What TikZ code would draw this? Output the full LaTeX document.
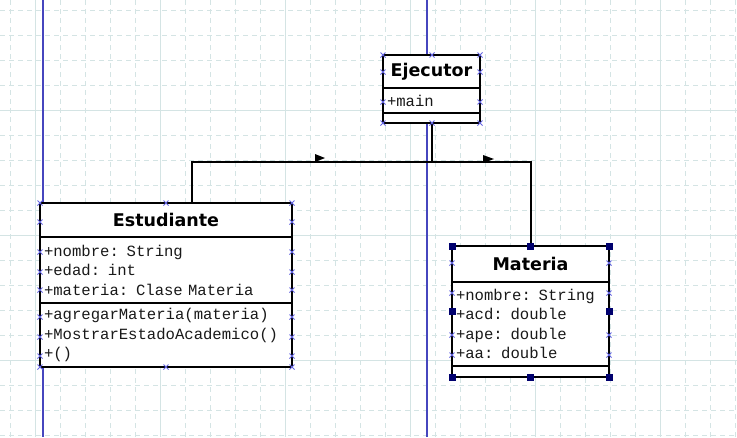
\documentclass[tikz,border=0pt]{standalone}
\usepackage{fontspec}
\usetikzlibrary{positioning}
\newfontfamily\titlefont{DejaVu Sans}
\newfontfamily\codefont[WordSpace={1,0,0}]{Liberation Mono}
\definecolor{gridline}{RGB}{212,228,228}
\definecolor{pageline}{RGB}{70,70,190}
\definecolor{portmark}{RGB}{100,100,225}
\definecolor{handle}{RGB}{0,0,110}
\tikzset{
  namepart/.style={draw, line width=2pt, fill=white, inner sep=0pt, outer sep=0pt,
    font=\titlefont\bfseries\fontsize{17.5}{17.5}\selectfont},
  listpart/.style={draw, line width=2pt, fill=white, inner xsep=4pt, inner ysep=0pt,
    outer sep=0pt, align=left, text=black!90,
    font=\codefont\fontsize{15.6}{19.5}\selectfont},
  link/.style={line width=2pt},
  port/.style={portmark, line width=0.8pt}
}
\begin{document}
\begin{tikzpicture}[x=1pt, y=-1pt]
            \useasboundingbox (0,0) rectangle (737,437);
            \fill[white] (0,0) rectangle (737,437);
            % grid
            \foreach \gx in {10,35,...,735}
                \draw[gridline, dash pattern=on 5pt off 4pt] (\gx,0) -- (\gx,437);
            \foreach \gy in {10,35,...,435}
                \draw[gridline, dash pattern=on 5pt off 4pt] (0,\gy) -- (737,\gy);
            \foreach \gx in {35,160,...,660}
                \draw[gridline] (\gx,0) -- (\gx,437);
            \foreach \gy in {110,235,360}
                \draw[gridline] (0,\gy) -- (737,\gy);
            \draw[pageline, line width=1.3pt] (43,0) -- (43,437);
            \draw[pageline, line width=1.3pt] (427,0) -- (427,437);
            % Ejecutor
            \node[namepart, minimum width=97, minimum height=33] (ejecutor) at (431.5,71.5) {Ejecutor};
            \node[listpart, below=0pt of ejecutor, text width=89, minimum height=25] (ejecutorattr) {+main};
            \node[listpart, below=0pt of ejecutorattr, text width=89, minimum height=10] (ejecutorops) {};
            % Estudiante
            \node[namepart, minimum width=252, minimum height=34] (estudiante) at (166,220) {Estudiante};
            \node[listpart, below=0pt of estudiante, text width=244, minimum height=66] (estudianteattr)
                {+nombre: String\\+edad: int\\+materia: Clase Materia};
            \node[listpart, below=0pt of estudianteattr, text width=244, minimum height=64] (estudianteops)
                {+agregarMateria(materia)\\+MostrarEstadoAcademico()\\+()};
            % Materia
            \node[namepart, minimum width=157, minimum height=36] (materia) at (530.5,264) {Materia};
            \node[listpart, below=0pt of materia, text width=149, minimum height=84] (materiaattr)
                {+nombre: String\\+acd: double\\+ape: double\\+aa: double};
            \node[listpart, below=0pt of materiaattr, text width=149, minimum height=11] (materiaops) {};
            % links
            \draw[link] (ejecutorops.south) -- ++(0,39) -| ([xshift=26pt]estudiante.north);
            \draw[link] (ejecutorops.south) -- ++(0,39) -| (materia.north);
            \fill (315,154) -- (325,158) -- (315,162) -- cycle;
            \fill (483,155) -- (494,159) -- (483,163) -- cycle;
            % ports
            \foreach \px/\py in {383/55, 432/55, 480/55, 383/72, 480/72, 383/102, 480/102,
                    383/123, 432/123, 480/123,
                    40/203, 166/203, 292/203, 40/222, 292/222, 40/252, 292/252, 40/272, 292/272,
                    40/290, 292/290, 40/317, 292/317, 40/337, 292/337, 40/356, 292/356,
                    40/367, 166/367, 292/367,
                    452/263, 609/263, 452/293, 609/293, 452/335, 609/335, 452/355, 609/355}
                \draw[port] (\px,\py) +(-2.5,-2.5) -- +(2.5,2.5) +(-2.5,2.5) -- +(2.5,-2.5);
            \foreach \px/\py in {452/246, 530.5/246, 609/246, 452/311.5, 609/311.5,
                    452/377, 530.5/377, 609/377}
                \fill[handle] (\px,\py) +(-3.5,-3.5) rectangle +(3.5,3.5);
        \end{tikzpicture}
\end{document}
